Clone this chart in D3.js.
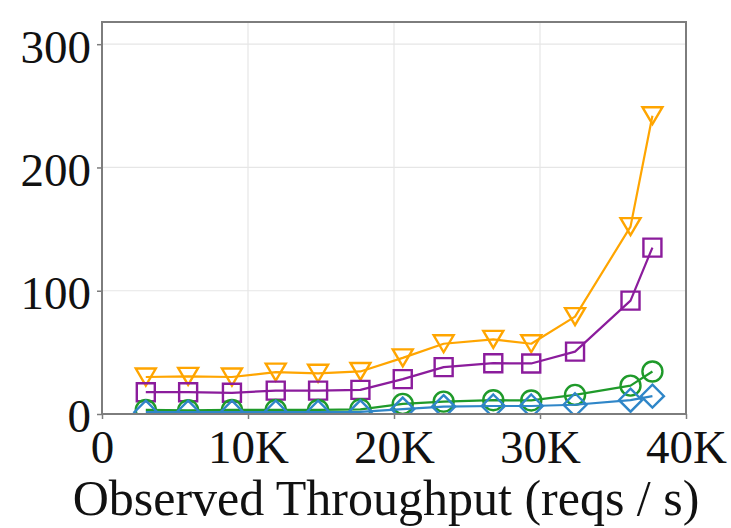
<!DOCTYPE html>
<html>
<head>
<meta charset="utf-8">
<script src="https://cdn.jsdelivr.net/npm/d3@7/dist/d3.min.js"></script>
<style>
  html, body { margin: 0; padding: 0; background: #ffffff; }
  svg { display: block; }
  text { font-family: "Liberation Serif", "DejaVu Serif", serif; fill: #111; }
</style>
</head>
<body>
<svg id="chart" width="731" height="528"></svg>
<script>
// Observed throughput (reqs / s) at each load step
const throughput = [3000, 5900, 8900, 11900, 14800, 17700, 20600, 23400, 26800, 29400, 32400, 36200, 37700];

// Latency series, one value per load step
const orangeTriangle = [30, 30.5, 30, 34, 33, 34.5, 45.5, 57, 60.5, 57, 79, 152, 242];
const purpleSquare   = [17.7, 17.7, 17.2, 19, 19, 19.6, 28.3, 38, 41.2, 41, 50.6, 92, 135];
const greenCircle    = [3.3, 3, 3.3, 3.3, 3.3, 3.8, 8.2, 10, 11.2, 11, 15.5, 23, 34.5];
const blueDiamond    = [1.5, 1.5, 1.5, 1.5, 1.5, 1.8, 4, 6, 6.5, 6.5, 7.5, 11.2, 14.5];

const xTicks = [0, 10000, 20000, 30000, 40000];
const xTickLabels = ["0", "10K", "20K", "30K", "40K"];
const yTicks = [0, 100, 200, 300];
const xTitle = "Observed Throughput (reqs / s)";

const series = [
  { name: "orange", values: orangeTriangle, color: "#ffa500", marker: "triangleDown" },
  { name: "purple", values: purpleSquare,   color: "#8b1c9c", marker: "square" },
  { name: "green",  values: greenCircle,    color: "#1f9a2a", marker: "circle" },
  { name: "blue",   values: blueDiamond,    color: "#2f86c8", marker: "diamond" }
];

const svg = d3.select("#chart");
const plot = { left: 102, right: 686, top: 22, bottom: 414 };

const x = d3.scaleLinear().domain([0, 40000]).range([plot.left, plot.right]);
const y = d3.scaleLinear().domain([0, 318]).range([plot.bottom, plot.top]);

const spineColor = "#7d7d7d";
const gridColor = "#e6e6e6";

svg.append("defs").append("clipPath").attr("id", "plot-clip")
  .append("rect")
  .attr("x", plot.left).attr("y", plot.top)
  .attr("width", plot.right - plot.left).attr("height", plot.bottom - plot.top);

// grid
const grid = svg.append("g");
grid.selectAll("line.gx").data(xTicks.slice(1, -1)).join("line")
  .attr("x1", d => x(d)).attr("x2", d => x(d))
  .attr("y1", plot.top).attr("y2", plot.bottom)
  .attr("stroke", gridColor).attr("stroke-width", 1.2);
grid.selectAll("line.gy").data(yTicks.slice(1)).join("line")
  .attr("x1", plot.left).attr("x2", plot.right)
  .attr("y1", d => y(d)).attr("y2", d => y(d))
  .attr("stroke", gridColor).attr("stroke-width", 1.2);

// axes
const xAxis = svg.append("g")
  .attr("transform", `translate(0,${plot.bottom})`)
  .call(d3.axisBottom(x).tickValues(xTicks)
    .tickFormat((d, i) => xTickLabels[i]).tickSize(5).tickPadding(11));
const yAxis = svg.append("g")
  .attr("transform", `translate(${plot.left},0)`)
  .call(d3.axisLeft(y).tickValues(yTicks).tickSize(5).tickPadding(6));

[xAxis, yAxis].forEach(g => {
  g.select(".domain").remove();
  g.selectAll(".tick line").attr("stroke", spineColor).attr("stroke-width", 1.5);
  g.selectAll(".tick text")
    .attr("font-family", "Liberation Serif, DejaVu Serif, serif")
    .attr("font-size", 47).attr("fill", "#111");
});
yAxis.selectAll(".tick text").attr("dy", "0.38em");

// series lines and hollow markers, clipped to the plotting area
const line = d3.line().x((d, i) => x(throughput[i])).y(d => y(d));

function markerPath(type) {
  const r = 10;
  switch (type) {
    case "triangleDown": return `M${-r},${-r * 0.85}L${r},${-r * 0.85}L0,${r * 0.85}Z`;
    case "square": return `M${-9},${-9}H9V9H-9Z`;
    case "diamond": return `M0,${-11.5}L11.5,0L0,11.5L-11.5,0Z`;
    default: return d3.arc()({ innerRadius: 0, outerRadius: r, startAngle: 0, endAngle: 2 * Math.PI });
  }
}

const dataLayer = svg.append("g").attr("clip-path", "url(#plot-clip)");
series.forEach(s => {
  const g = dataLayer.append("g").attr("class", "series-" + s.name);
  g.append("path").datum(s.values)
    .attr("d", line)
    .attr("fill", "none").attr("stroke", s.color).attr("stroke-width", 2.2)
    .attr("stroke-linejoin", "round");
  g.selectAll("path.marker").data(s.values).join("path")
    .attr("class", "marker")
    .attr("transform", (d, i) => `translate(${x(throughput[i])},${y(d)})`)
    .attr("d", markerPath(s.marker))
    .attr("fill", "none").attr("stroke", s.color).attr("stroke-width", 2.4);
});

// frame
svg.append("rect")
  .attr("x", plot.left).attr("y", plot.top)
  .attr("width", plot.right - plot.left).attr("height", plot.bottom - plot.top)
  .attr("fill", "none").attr("stroke", spineColor).attr("stroke-width", 2);

// x axis title
svg.append("text")
  .attr("x", 386).attr("y", 515)
  .attr("text-anchor", "middle")
  .attr("font-size", 50)
  .text(xTitle);
</script>
</body>
</html>
